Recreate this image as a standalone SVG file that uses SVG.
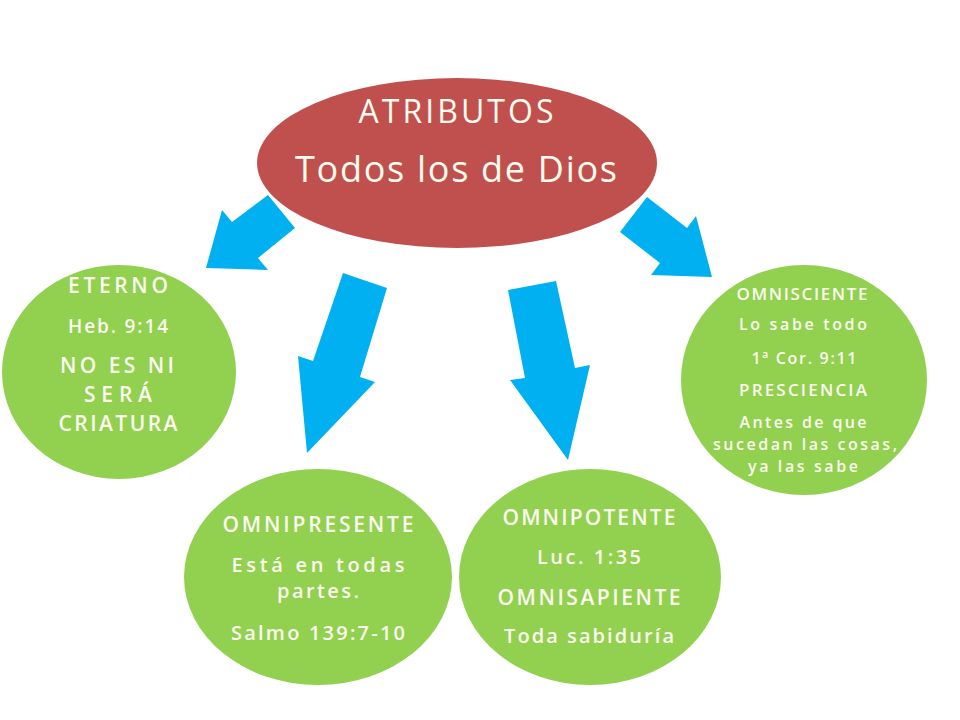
<svg xmlns="http://www.w3.org/2000/svg" width="960" height="720" viewBox="0 0 960 720">
<style>
.red{fill:#C0504D}
.green{fill:#92D050}
.arrow{fill:#00B0F0}
text{font-family:"Open Sans","DejaVu Sans",sans-serif;fill:#FBFBEF;text-anchor:middle;font-weight:600}
.t1{font-size:32px;font-weight:500}
.t2{font-size:36px;font-weight:500}
.c21{font-size:21px}
.s20{font-size:20px}
.s19{font-size:19px}
.c17{font-size:17px}
.s16{font-size:16px}
</style>
<rect width="960" height="720" fill="#FFFFFF"/>
<g id="connectors">
<polygon class="arrow" points="268,195 295,228 258,258 268,270 206,268 222,210 232,222"/>
<polygon class="arrow" points="343,273 387,288 360,377 375,382 307,453 298,356 313,361"/>
<polygon class="arrow" points="508,290 556,281 575,368 590,365 568,460 510,380 525,378"/>
<polygon class="arrow" points="647,197 687,228 696,216 712,277 651,275 660,263 620,232"/>
</g>
<g id="atributos">
<ellipse class="red" cx="457" cy="163" rx="200" ry="85"/>
<text class="t1" x="456" y="123" textLength="195" lengthAdjust="spacing">ATRIBUTOS</text>
<text class="t2" x="456" y="182" textLength="322" lengthAdjust="spacing">Todos los de Dios</text>
</g>
<g id="eterno">
<ellipse class="green" cx="119" cy="372" rx="117" ry="107"/>
<text class="c21" x="118" y="293" textLength="100" lengthAdjust="spacing">ETERNO</text>
<text class="s19" x="118" y="333" textLength="100" lengthAdjust="spacing">Heb. 9:14</text>
<text class="c21" x="117" y="373" textLength="114" lengthAdjust="spacing">NO ES NI</text>
<text class="c21" x="118" y="402" textLength="68" lengthAdjust="spacing">SERÁ</text>
<text class="c21" x="118" y="431" textLength="119" lengthAdjust="spacing">CRIATURA</text>
</g>
<g id="omnipresente">
<ellipse class="green" cx="318" cy="577" rx="134" ry="108"/>
<text class="c21" x="318" y="532" textLength="191" lengthAdjust="spacing">OMNIPRESENTE</text>
<text class="s20" x="318" y="572" textLength="173" lengthAdjust="spacing">Está en todas</text>
<text class="s20" x="318" y="598" textLength="82" lengthAdjust="spacing">partes.</text>
<text class="s20" x="318" y="640" textLength="174" lengthAdjust="spacing">Salmo 139:7-10</text>
</g>
<g id="omnipotente">
<ellipse class="green" cx="590" cy="577" rx="131" ry="108"/>
<text class="c21" x="589" y="525" textLength="173" lengthAdjust="spacing">OMNIPOTENTE</text>
<text class="s20" x="589" y="564" textLength="104" lengthAdjust="spacing">Luc. 1:35</text>
<text class="c21" x="589" y="605" textLength="183" lengthAdjust="spacing">OMNISAPIENTE</text>
<text class="s20" x="589" y="643" textLength="170" lengthAdjust="spacing">Toda sabiduría</text>
</g>
<g id="omnisciente">
<ellipse class="green" cx="804" cy="380" rx="123" ry="115"/>
<text class="c17" x="802" y="300" textLength="131" lengthAdjust="spacing">OMNISCIENTE</text>
<text class="s16" x="803" y="330" textLength="128" lengthAdjust="spacing">Lo sabe todo</text>
<text class="s16" x="804" y="364" textLength="105" lengthAdjust="spacing">1ª Cor. 9:11</text>
<text class="c17" x="803" y="396" textLength="128" lengthAdjust="spacing">PRESCIENCIA</text>
<text class="s16" x="803" y="428" textLength="127" lengthAdjust="spacing">Antes de que</text>
<text class="s16" x="805" y="450" textLength="184" lengthAdjust="spacing">sucedan las cosas,</text>
<text class="s16" x="803" y="472" textLength="110" lengthAdjust="spacing">ya las sabe</text>
</g>
</svg>
